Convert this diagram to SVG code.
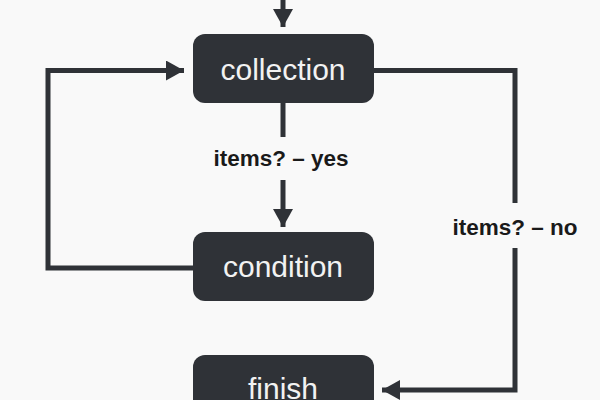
<svg xmlns="http://www.w3.org/2000/svg" width="600" height="400" viewBox="0 0 600 400">
<defs>
<marker id="ah" markerWidth="4" markerHeight="4" refX="3.6" refY="2" orient="auto" markerUnits="strokeWidth">
<path d="M0,0 L3.6,2 L0,4 Z" fill="#2f3237"/>
</marker>
<style>
.node rect{fill:#2f3237}
.node text{fill:#f2f2f2;font-family:"Liberation Sans",Arial,sans-serif;font-size:30px;text-anchor:middle}
.edge{fill:none;stroke:#2f3237;stroke-width:5;stroke-linejoin:miter}
.lbl{fill:#1a1a1a;font-family:"Liberation Sans",Arial,sans-serif;font-size:22.5px;font-weight:bold;text-anchor:middle}
</style>
</defs>
<rect width="600" height="400" fill="#f9f9f9"/>
<g id="connectors">
<path class="edge" d="M283,0 V27" marker-end="url(#ah)"/>
<path class="edge" d="M283,103 V137"/>
<path class="edge" d="M283,180 V227" marker-end="url(#ah)"/>
<path class="edge" d="M193,268 H48 V70.5 H184" marker-end="url(#ah)"/>
<path class="edge" d="M374,70.5 H515 V203"/>
<path class="edge" d="M515,248 V390 H382" marker-end="url(#ah)"/>
<text class="lbl" x="281" y="166">items? – yes</text>
<text class="lbl" x="515" y="235">items? – no</text>
</g>
<g id="collection" class="node">
<rect x="193" y="34" width="181" height="69" rx="12"/>
<text x="283" y="80">collection</text>
</g>
<g id="condition" class="node">
<rect x="193" y="232" width="181" height="69" rx="12"/>
<text x="283" y="277">condition</text>
</g>
<g id="finish" class="node">
<rect x="193" y="355" width="181" height="69" rx="12"/>
<text x="283" y="399">finish</text>
</g>
</svg>
